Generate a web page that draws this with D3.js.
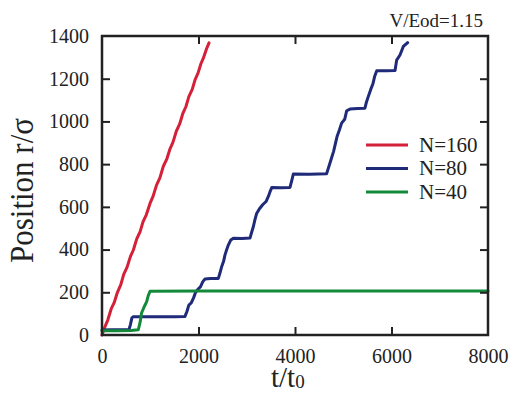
<!DOCTYPE html>
<html>
<head>
<meta charset="utf-8">
<script src="https://cdn.jsdelivr.net/npm/d3@7"></script>
<style>
  html, body { margin: 0; padding: 0; background: #fff; }
  svg { display: block; }
  svg text { font-family: "Liberation Serif", "DejaVu Serif", "Noto Serif", serif; fill: #222; }
</style>
</head>
<body>
<svg id="chart" width="514" height="394"></svg>
<script>
// Front position r/σ versus time t/t0 for three chain lengths
const xTicks = [0, 2000, 4000, 6000, 8000];
const yTicks = [0, 200, 400, 600, 800, 1000, 1200, 1400];
const seriesNames = ["N=160", "N=80", "N=40"];
const seriesColors = ["#d42038", "#1f2a78", "#13893a"];

const n160 = [[0,0],[60,38],[120,70],[190,122],[250,150],[320,200],[390,236],[450,284],[520,318],[590,368],[650,398],[720,450],[790,484],[850,530],[920,564],[995,616],[1060,650],[1130,702],[1200,736],[1271,790],[1340,822],[1410,872],[1470,902],[1540,954],[1610,988],[1672,1035],[1740,1070],[1800,1116],[1870,1150],[1930,1196],[1990,1226],[2050,1270],[2100,1296],[2160,1336],[2218,1368]];

const n80 = [[0,23],[200,24],[400,24],[560,25],[590,50],[620,80],[650,86],[900,85],[1200,86],[1500,85],[1720,87],[1760,110],[1800,140],[1850,150],[1900,175],[1940,200],[1990,215],[2040,225],[2090,250],[2135,262],[2250,264],[2411,265],[2445,290],[2480,320],[2520,345],[2549,375],[2585,400],[2618,421],[2670,445],[2722,453],[2900,452],[3067,454],[3100,480],[3136,507],[3170,540],[3205,569],[3260,590],[3330,610],[3400,625],[3450,650],[3490,675],[3520,691],[3700,690],[3896,691],[3930,720],[3965,754],[4300,753],[4655,755],[4690,780],[4725,805],[4800,860],[4870,928],[4920,960],[4966,992],[5030,1010],[5071,1050],[5140,1058],[5300,1060],[5450,1062],[5480,1090],[5518,1116],[5570,1150],[5617,1178],[5650,1210],[5694,1237],[5900,1237],[6073,1238],[6107,1287],[6176,1311],[6245,1351],[6335,1369]];

const n40 = [[0,20],[300,20],[600,21],[753,25],[790,60],[820,103],[870,130],[926,156],[960,185],[995,205],[2000,206],[4000,206],[6000,206],[8000,206]];

const seriesData = [n160, n80, n40];

const svg = d3.select("#chart");
const margin = { left: 102, right: 26, top: 36, bottom: 59 };
const W = 514, H = 394;
const x = d3.scaleLinear().domain([0, 8000]).range([margin.left, W - margin.right]);
const y = d3.scaleLinear().domain([0, 1400]).range([H - margin.bottom, margin.top]);

const frameColor = "#222";
const serif = '"Liberation Serif", "DejaVu Serif", "Noto Serif", serif';

// data lines (drawn under the frame)
const line = d3.line().x(d => x(d[0])).y(d => y(d[1]));
seriesData.forEach((data, i) => {
  svg.append("path")
    .datum(data)
    .attr("d", line)
    .attr("fill", "none")
    .attr("stroke", seriesColors[i])
    .attr("stroke-width", 3)
    .attr("stroke-linejoin", "round")
    .attr("stroke-linecap", "round");
});

// axes with inward ticks on all four sides
const tickLen = 8;
const fmt = d3.format("d");
const bottomAxis = d3.axisBottom(x).tickValues(xTicks).tickSize(-tickLen).tickFormat(fmt);
const topAxis = d3.axisTop(x).tickValues(xTicks).tickSize(-tickLen).tickFormat("");
const leftAxis = d3.axisLeft(y).tickValues(yTicks).tickSize(-tickLen).tickFormat(fmt);
const rightAxis = d3.axisRight(y).tickValues(yTicks).tickSize(-tickLen).tickFormat("");

function styleAxis(g) {
  g.attr("font-family", null);
  g.select(".domain").remove();
  g.selectAll(".tick line").attr("stroke", frameColor).attr("stroke-width", 2);
  g.selectAll(".tick text")
    .attr("fill", frameColor)
    .style("font-family", serif)
    .style("font-size", "20px");
}

svg.append("g").attr("transform", `translate(0,${y(0)})`).call(bottomAxis).call(styleAxis)
  .selectAll(".tick text").attr("dy", "0.35em").attr("y", 21);
svg.append("g").attr("transform", `translate(0,${y(1400)})`).call(topAxis).call(styleAxis);
svg.append("g").attr("transform", `translate(${x(0)},0)`).call(leftAxis).call(styleAxis)
  .selectAll(".tick text").attr("x", -13);
svg.append("g").attr("transform", `translate(${x(8000)},0)`).call(rightAxis).call(styleAxis);

// ticks at the plot edges are hidden by the frame
svg.selectAll(".tick").filter(d => d === 0 || d === 8000 || d === 1400).select("line").remove();

// frame
svg.append("rect")
  .attr("x", x(0)).attr("y", y(1400))
  .attr("width", x(8000) - x(0)).attr("height", y(0) - y(1400))
  .attr("fill", "none").attr("stroke", frameColor).attr("stroke-width", 2.5);

// axis titles
svg.append("text")
  .attr("transform", `translate(33,${(118 + 263) / 2}) rotate(-90)`)
  .attr("text-anchor", "middle")
  .attr("textLength", 145)
  .attr("lengthAdjust", "spacingAndGlyphs")
  .style("font-size", "33px")
  .text("Position r/σ");

const xt = svg.append("text")
  .attr("x", 271).attr("y", 387)
  .style("font-size", "29px");
xt.append("tspan").text("t/t");
xt.append("tspan").attr("dy", 1).style("font-size", "19px").text("0");

// condition label
svg.append("text")
  .attr("x", 483).attr("y", 27)
  .attr("text-anchor", "end")
  .style("font-size", "19px")
  .text("V/Eod=1.15");

// legend
const legend = svg.append("g");
seriesNames.forEach((name, i) => {
  const ly = 145 + i * 23.5;
  legend.append("line")
    .attr("x1", 366).attr("x2", 408)
    .attr("y1", ly).attr("y2", ly)
    .attr("stroke", seriesColors[i]).attr("stroke-width", 3);
  legend.append("text")
    .attr("x", 419).attr("y", ly + 6.5)
    .style("font-size", "21px")
    .text(name);
});
</script>
</body>
</html>
